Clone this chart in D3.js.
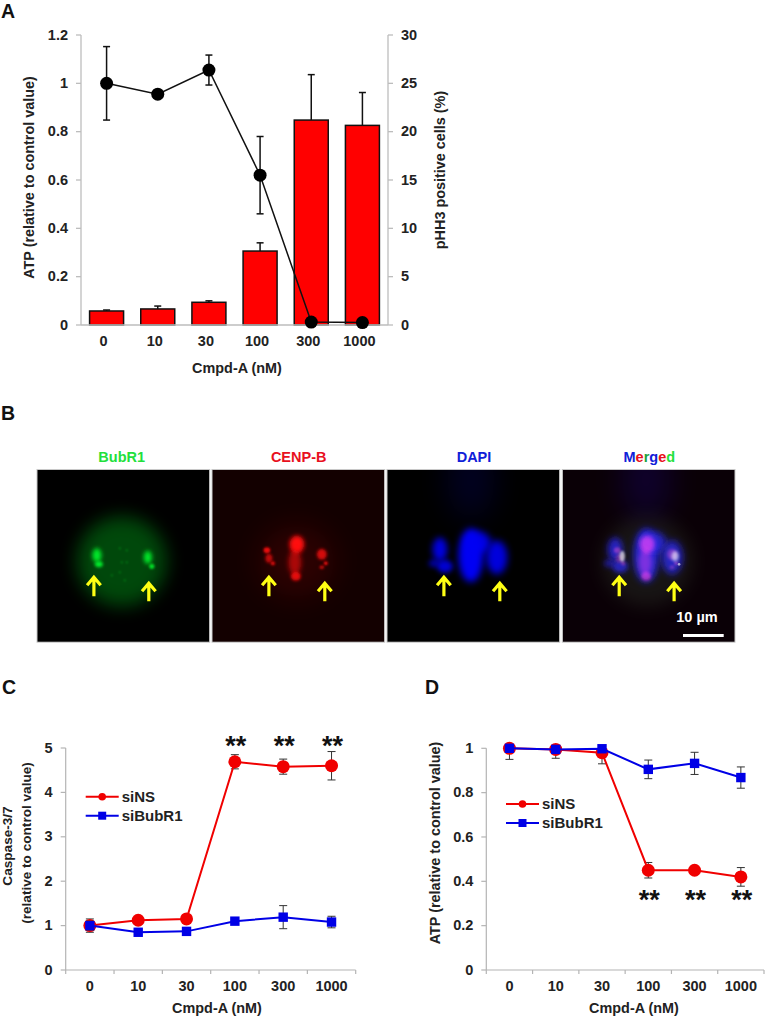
<!DOCTYPE html>
<html><head><meta charset="utf-8">
<script src="https://cdn.jsdelivr.net/npm/d3@7"></script>
<style>
html,body{margin:0;padding:0;background:#fff}
svg{display:block}
text{font-family:"Liberation Sans",Arial,sans-serif;font-weight:700;fill:#222}
</style></head><body>
<script>
const doses = ["0","10","30","100","300","1000"];

// Panel A
const aAtp    = [1.0,0.955,1.055,0.62,0.012,0.01];
const aAtpErr = [0.152,0.01,0.062,0.16,0,0];
const aPhh3   = [1.45,1.66,2.35,7.65,21.2,20.65];
const aPhh3Err= [0.1,0.3,0.15,0.85,4.7,3.4];
const aLeftTicks  = [0,0.2,0.4,0.6,0.8,1,1.2];
const aRightTicks = [0,5,10,15,20,25,30];

// Panel C
const cNS     = [1.0,1.12,1.15,4.69,4.58,4.6];
const cNSErr  = [0.15,0.05,0.05,0.16,0.17,0.32];
const cBub    = [1.0,0.85,0.87,1.1,1.19,1.08];
const cBubErr = [0.1,0.05,0.05,0.05,0.26,0.13];
const cTicks  = [0,1,2,3,4,5];
const cStars  = [3,4,5];

// Panel D
const dNS     = [1.0,0.995,0.98,0.45,0.45,0.42];
const dNSErr  = [0.05,0.04,0.05,0.035,0,0.042];
const dBub    = [1.0,0.995,0.998,0.905,0.932,0.868];
const dBubErr = [0,0.01,0,0.042,0.05,0.048];
const dTicks  = [0,0.2,0.4,0.6,0.8,1];
const dStars  = [3,4,5];

const bGlow  = [[85,92,45,45,9,0.32]];
const bGreen = [[60,86,4.5,7,2,0.95],[62,95,4,3,1.5,0.95],[111,88,4,6.5,1.9,0.95],[115,97,2.6,2.6,1.1,0.85],
                [83,79,1.1,1.1,0.8,0.3],[90,81,1.1,1.1,0.8,0.3],[85,93,1.1,1.1,0.8,0.3],[90,93,1.1,1.1,0.8,0.3],
                [83,103,1.1,1.1,0.8,0.3],[88,111,1.1,1.1,0.8,0.3],[75,106,1.1,1.1,0.8,0.3]];
const bRedHaze = [[85,92,38,36,14,0.11]];
const bRed   = [[85,75,7.5,9,2,1],[83,93,6.5,13,2.6,0.6],[84,107,5,4.5,1.7,0.85],
                [55,81,3.4,3,1.1,0.9],[57,89,3.6,4.6,1.4,0.7],[61,94,2.2,2.2,0.9,0.8],
                [110,85,5,5.5,1.5,0.8],[114,94,2,2,0.8,0.9],[110,98,2.4,2,0.9,0.65]];
const bBlue  = [[84,86,12.5,27,3.5,1],[91,73,13,11,3.5,0.9],[53,80,7.5,12,3,0.9],[47,94,5.5,4,2.5,0.6],[58,97,8,6.5,2.5,0.85],
                [110,88,10.5,17,3.5,0.9]];
const bBlueHaze = [[84,10,24,40,15,0.13]];
const bWhite = [[60,87,2.8,5.5,1.2,0.65],[113,87,3.6,5,1.4,0.6],[117,95,1.3,1.3,0.6,0.6]];
const bArrowsL = [[57,107,127],[113,113,132]];
const bArrowsR = [[57,107,127],[112,113,132]];
const bTitles = ["BubR1","CENP-B","DAPI"];
const bMerged = ["M","e","r","g","e","d"];

const svg = d3.select("body").append("svg").attr("width",765).attr("height",1018);
const defs = svg.append("defs");
const RED="#f00000", BLUE="#0000e6", TXT="#222", GRID="#b4b4b4";

function err(g,x,y,vals,errs,color,sw,cap,upOnly){
  const sel=g.append("g").attr("stroke",color).attr("stroke-width",sw).attr("fill","none");
  const ymax=y.domain()[1];
  vals.forEach((v,i)=>{
    if(!errs[i]) return;
    const cx=x(doses[i])+x.bandwidth()/2, over=v+errs[i]>ymax, t=y(Math.min(v+errs[i],ymax)), b=upOnly?y(v):y(v-errs[i]);
    sel.append("line").attr("x1",cx).attr("x2",cx).attr("y1",t).attr("y2",b);
    if(!over) sel.append("line").attr("x1",cx-cap).attr("x2",cx+cap).attr("y1",t).attr("y2",t);
    if(!upOnly) sel.append("line").attr("x1",cx-cap).attr("x2",cx+cap).attr("y1",b).attr("y2",b);
  });
}
function styleAxis(g,color,w){
  g.selectAll("path,line").attr("stroke",color).attr("stroke-width",w);
  g.selectAll("text").style("fill",TXT).style("font-size","14.5px");
}
function panelLetter(t,x,y){
  svg.append("text").attr("x",x).attr("y",y).text(t).style("font-size","19.5px").style("fill","#111");
}
panelLetter("A",1,17.8); panelLetter("B",1,420); panelLetter("C",2,694); panelLetter("D",425,694);

/* ---------- Panel A ---------- */
(function(){
  const x=d3.scaleBand().domain(doses).range([81,388]);
  const yL=d3.scaleLinear().domain([0,1.2]).range([325,35]);
  const yR=d3.scaleLinear().domain([0,30]).range([325,35]);
  const g=svg.append("g");
  const bw=34;
  g.selectAll(".bar").data(aPhh3).join("rect")
    .attr("x",(d,i)=>x(doses[i])+x.bandwidth()/2-bw/2).attr("width",bw)
    .attr("y",d=>yR(d)).attr("height",d=>yR(0)-yR(d))
    .attr("fill","#ff0000").attr("stroke","#111").attr("stroke-width",1.5);
  err(g,x,yR,aPhh3,aPhh3Err,"#111",1.5,3.5,true);

  const l=g.append("g").attr("transform","translate(81,0)")
    .call(d3.axisLeft(yL).tickValues(aLeftTicks).tickFormat(d3.format("~g")).tickSize(5).tickSizeOuter(0).tickPadding(8).offset(0));
  styleAxis(l,"#bdbdbd",1.3);
  const r=g.append("g").attr("transform","translate(388,0)")
    .call(d3.axisRight(yR).tickValues(aRightTicks).tickSize(5).tickSizeOuter(0).tickPadding(8).offset(0));
  styleAxis(r,"#bdbdbd",1.3);
  const b=g.append("g").attr("transform","translate(0,325)")
    .call(d3.axisBottom(x).tickSize(0).tickPadding(11).offset(0));
  styleAxis(b,"#bdbdbd",1.3);
  b.selectAll("text").attr("dx",-3);

  const line=d3.line().x((d,i)=>x(doses[i])+x.bandwidth()/2).y(d=>yL(d));
  g.append("path").attr("d",line(aAtp)).attr("fill","none").attr("stroke","#111").attr("stroke-width",1.5);
  err(g,x,yL,aAtp,aAtpErr,"#111",1.5,3.5,false);
  g.selectAll(".pt").data(aAtp).join("circle")
    .attr("cx",(d,i)=>x(doses[i])+x.bandwidth()/2).attr("cy",d=>yL(d)).attr("r",6.5).attr("fill","#000");

  g.append("text").attr("transform","translate(34,177.5) rotate(-90)").attr("text-anchor","middle").style("font-size","14.4px").text("ATP (relative to control value)");
  g.append("text").attr("transform","translate(445,170) rotate(-90)").attr("text-anchor","middle").style("font-size","14.4px").text("pHH3 positive cells (%)");
  g.append("text").attr("x",237).attr("y",373).attr("text-anchor","middle").style("font-size","14.4px").text("Cmpd-A (nM)");
})();

/* ---------- Panel B ---------- */
(function(){
  const cols=[37,212,387,562.3];
  const top=469.5, size=172.7;
  const fx=d3.scaleLinear().domain([0,173]).range([0,size]);
  const fy=d3.scaleLinear().domain([0,173]).range([0,size]);
  const blurIds=new Map();
  function blurId(b){
    if(!blurIds.has(b)){
      const id="bl"+blurIds.size;
      blurIds.set(b,id);
      defs.append("filter").attr("id",id).attr("x","-150%").attr("y","-150%").attr("width","400%").attr("height","400%")
        .append("feGaussianBlur").attr("stdDeviation",b);
    }
    return blurIds.get(b);
  }
  function blobs(g,list,color,mult){
    g.append("g").style("mix-blend-mode","screen").selectAll("ellipse").data(list).join("ellipse")
      .attr("cx",d=>fx(d[0])).attr("cy",d=>fy(d[1])).attr("rx",d=>fx(d[2])).attr("ry",d=>fy(d[3]))
      .attr("fill",color).attr("opacity",d=>d[5]*mult)
      .attr("filter",d=>`url(#${blurId(d[4])})`);
  }
  function arrows(g,list){
    list.forEach(a=>{
      const x=fx(a[0]), t=fy(a[1]), b=fy(a[2]);
      g.append("path").attr("d",`M${x},${b}V${t+1}M${x-6.8},${t+9}L${x},${t+1}L${x+6.8},${t+9}`)
        .attr("fill","none").attr("stroke","#ffff14").attr("stroke-width",3.2);
    });
  }
  const bgs=["#000","#130000","#000","#0a0006"];
  cols.forEach((c,i)=>{
    defs.append("clipPath").attr("id","clip"+i).append("rect").attr("width",size).attr("height",size);
    const frame=svg.append("g").attr("transform",`translate(${c},${top})`);
    const g=frame.append("g").attr("clip-path",`url(#clip${i})`).style("isolation","isolate");
    g.append("rect").attr("width",size).attr("height",size).attr("fill",bgs[i]);
    if(i===0){ blobs(g,bGlow,"#00e020",1); blobs(g,bGreen,"#00ee20",1); }
    if(i===1){ blobs(g,bRedHaze,"#ff0808",1); blobs(g,bRed,"#ff0808",1); }
    if(i===2){ blobs(g,bBlueHaze,"#0808ff",1); blobs(g,bBlue,"#0606f4",1); }
    if(i===3){
      blobs(g,bBlueHaze,"#2010ff",1.2);
      blobs(g,bGlow,"#70a070",0.4);
      blobs(g,bBlue,"#1414e8",0.9);
      blobs(g,bRed.slice(0,3),"#ff20a0",0.65);
      blobs(g,bRed.slice(3),"#ff4060",0.45);
      blobs(g,bWhite,"#ffffff",1);
    }
    arrows(g,i===0||i===3?bArrowsR:bArrowsL);
    frame.append("rect").attr("width",size).attr("height",size).attr("fill","none").attr("stroke","#c8c8c8").attr("stroke-width",1);
  });
  const cx=[121.7,298.7,474];
  const colors=["#22e03c","#e81020","#1020d8"];
  bTitles.forEach((t,i)=>{
    svg.append("text").attr("x",cx[i]).attr("y",462).attr("text-anchor","middle").style("font-size","14.5px").style("fill",colors[i]).text(t);
  });
  const mColors=["#1020d8","#e81020","#22a03c","#1020d8","#e81020","#22e03c"];
  const mt=svg.append("text").attr("x",649.3).attr("y",462).attr("text-anchor","middle").style("font-size","14.5px");
  bMerged.forEach((c,i)=>mt.append("tspan").style("fill",mColors[i]).text(c));
  svg.append("text").attr("x",697).attr("y",622).attr("text-anchor","middle").style("font-size","14.5px").style("fill","#fff").text("10 µm");
  svg.append("rect").attr("x",683).attr("y",634).attr("width",40.7).attr("height",3).attr("fill","#fff");
})();

/* ---------- Panels C and D ---------- */
function linePanel(o){
  const x=d3.scaleBand().domain(doses).range([o.x0,o.x1]);
  const y=d3.scaleLinear().domain([0,o.ymax]).range([970,o.ytop]);
  const edge=d3.scaleLinear().domain([0,6]).range([o.x0,o.x1]);
  const g=svg.append("g");
  const l=g.append("g").attr("transform",`translate(${o.x0},0)`)
    .call(d3.axisLeft(y).tickValues(o.ticks).tickFormat(d3.format("~g")).tickSize(5).tickSizeOuter(0).tickPadding(8).offset(0));
  styleAxis(l,GRID,1.2);
  const be=g.append("g").attr("transform","translate(0,970)")
    .call(d3.axisBottom(edge).tickValues(d3.range(7)).tickFormat("").tickSize(4).tickSizeOuter(0).offset(0));
  styleAxis(be,GRID,1.2);
  const bl=g.append("g").attr("transform","translate(0,970)")
    .call(d3.axisBottom(x).tickSize(0).tickPadding(11).offset(0));
  bl.select("path").remove();
  styleAxis(bl,GRID,1.2);

  const line=d3.line().x((d,i)=>x(doses[i])+x.bandwidth()/2).y(d=>y(d));
  err(g,x,y,o.ns,o.nsErr,"#333",1,4,false);
  g.append("path").attr("d",line(o.ns)).attr("fill","none").attr("stroke",RED).attr("stroke-width",2);
  g.selectAll(".r").data(o.ns).join("circle")
    .attr("cx",(d,i)=>x(doses[i])+x.bandwidth()/2).attr("cy",d=>y(d)).attr("r",6.5).attr("fill",RED);
  err(g,x,y,o.bub,o.bubErr,"#333",1,4,false);
  g.append("path").attr("d",line(o.bub)).attr("fill","none").attr("stroke",BLUE).attr("stroke-width",2);
  g.selectAll(".b").data(o.bub).join("rect")
    .attr("x",(d,i)=>x(doses[i])+x.bandwidth()/2-4.7).attr("y",d=>y(d)-4.7).attr("width",9.4).attr("height",9.4).attr("fill",BLUE);

  g.selectAll(".star").data(o.stars).join("text")
    .attr("x",d=>x(doses[d])+x.bandwidth()/2+1).attr("y",o.starY).attr("text-anchor","middle")
    .style("font-size","27px").style("fill","#111").text("**");

  const lg=g.append("g");
  lg.append("line").attr("x1",o.lx).attr("x2",o.lx+33).attr("y1",o.ly).attr("y2",o.ly).attr("stroke",RED).attr("stroke-width",2);
  lg.append("circle").attr("cx",o.lx+16.5).attr("cy",o.ly).attr("r",3.8).attr("fill",RED);
  lg.append("line").attr("x1",o.lx).attr("x2",o.lx+33).attr("y1",o.ly+19).attr("y2",o.ly+19).attr("stroke",BLUE).attr("stroke-width",2);
  lg.append("rect").attr("x",o.lx+12.5).attr("y",o.ly+15).attr("width",8).attr("height",8).attr("fill",BLUE);
  lg.append("text").attr("x",o.lx+36).attr("y",o.ly+5).style("font-size","15px").text("siNS");
  lg.append("text").attr("x",o.lx+36).attr("y",o.ly+24).style("font-size","15px").text("siBubR1");

  g.append("text").attr("x",o.xlabelX).attr("y",1012.5).attr("text-anchor","middle").style("font-size","14.4px").text("Cmpd-A (nM)");
  return g;
}
const gc=linePanel({x0:65.7,x1:355.7,ytop:748,ymax:5,ticks:cTicks,ns:cNS,nsErr:cNSErr,bub:cBub,bubErr:cBubErr,
  stars:cStars,starY:755,lx:85.7,ly:796.7,xlabelX:217});
gc.append("text").attr("transform","translate(12,846) rotate(-90)").attr("text-anchor","middle").style("font-size","13.6px").text("Caspase-3/7");
gc.append("text").attr("transform","translate(31,843) rotate(-90)").attr("text-anchor","middle").style("font-size","13.6px").text("(relative to control value)");
const gd=linePanel({x0:486.3,x1:764,ytop:748.3,ymax:1,ticks:dTicks,ns:dNS,nsErr:dNSErr,bub:dBub,bubErr:dBubErr,
  stars:dStars,starY:909,lx:506,ly:804,xlabelX:634});
gd.append("text").attr("transform","translate(440,843) rotate(-90)").attr("text-anchor","middle").style("font-size","14.4px").text("ATP (relative to control value)");
</script>
</body></html>
